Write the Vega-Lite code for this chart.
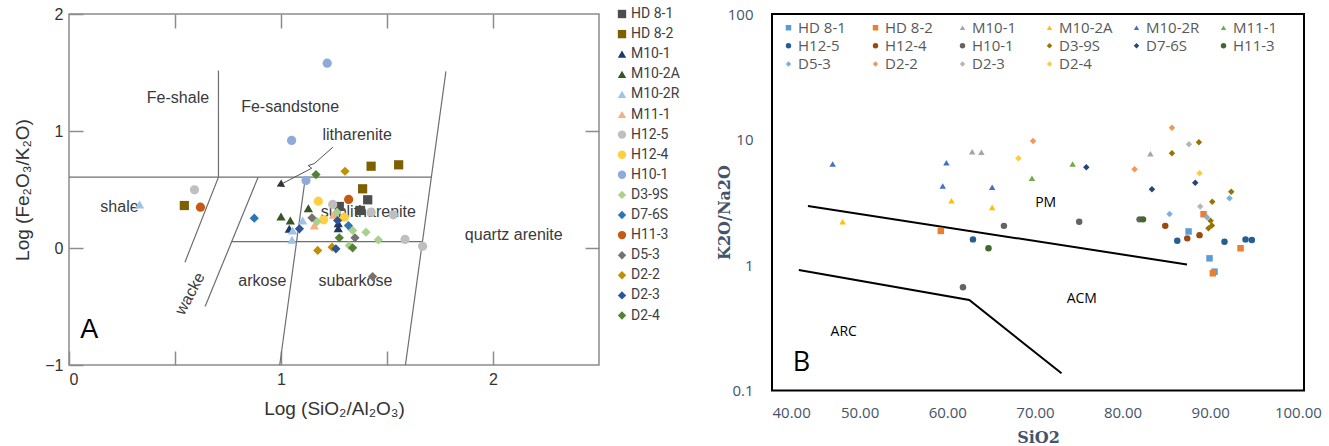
{
  "$schema": "https://vega.github.io/schema/vega-lite/v6.json",
  "background": "white",
  "padding": {"left": 13, "top": 5, "right": 0, "bottom": 0},
  "bounds": "flush",
  "spacing": 173,
  "config": {
    "font": "Liberation Sans",
    "axis": {"grid": false}
  },
  "datasets": {
    "leftLines": [
      {"seg": "top", "ord": 0, "x": 0, "y": 0.605},
      {"seg": "top", "ord": 1, "x": 1.709, "y": 0.605},
      {"seg": "feshale", "ord": 0, "x": 0.705, "y": 1.517},
      {"seg": "feshale", "ord": 1, "x": 0.705, "y": 0.605},
      {"seg": "feshale", "ord": 2, "x": 0.547, "y": -0.121},
      {"seg": "wacke", "ord": 0, "x": 0.892, "y": 0.605},
      {"seg": "wacke", "ord": 1, "x": 0.642, "y": -0.5},
      {"seg": "lower", "ord": 0, "x": 0.766, "y": 0.055},
      {"seg": "lower", "ord": 1, "x": 1.667, "y": 0.055},
      {"seg": "lith", "ord": 0, "x": 1.115, "y": 0.605},
      {"seg": "lith", "ord": 1, "x": 0.994, "y": -1},
      {"seg": "quartz", "ord": 0, "x": 1.587, "y": -1},
      {"seg": "quartz", "ord": 1, "x": 1.778, "y": 1.509}
    ],
    "leftArrow": [
      {"ord": 0, "x": 1.245, "y": 0.862},
      {"ord": 1, "x": 1.156, "y": 0.72},
      {"ord": 2, "x": 1.128, "y": 0.705},
      {"ord": 3, "x": 1.145, "y": 0.682},
      {"ord": 4, "x": 0.995, "y": 0.54}
    ],
    "leftArrowHead": [{"x": 0.995, "y": 0.54}],
    "leftLabels": [
      {"text": "Fe-shale", "x": 0.514, "y": 1.284},
      {"text": "Fe-sandstone", "x": 1.043, "y": 1.204},
      {"text": "litharenite", "x": 1.359, "y": 0.967},
      {"text": "shale", "x": 0.238, "y": 0.349},
      {"text": "sublitharenite", "x": 1.412, "y": 0.306},
      {"text": "quartz arenite", "x": 2.098, "y": 0.107},
      {"text": "arkose", "x": 0.912, "y": -0.278},
      {"text": "subarkose", "x": 1.351, "y": -0.286}
    ],
    "leftWacke": [{"text": "wacke", "x": 0.571, "y": -0.391}],
    "leftPanel": [{"text": "A", "x": 0.095, "y": -0.705}],
    "leftPoints": [
      {"sample": "HD 8-1", "x": 1.409, "y": 0.412},
      {"sample": "HD 8-1", "x": 1.275, "y": 0.355},
      {"sample": "HD 8-1", "x": 1.375, "y": 0.321},
      {"sample": "HD 8-2", "x": 1.425, "y": 0.699},
      {"sample": "HD 8-2", "x": 1.555, "y": 0.711},
      {"sample": "HD 8-2", "x": 1.385, "y": 0.506},
      {"sample": "HD 8-2", "x": 0.544, "y": 0.363},
      {"sample": "M10-1", "x": 1.27, "y": 0.212},
      {"sample": "M10-1", "x": 1.27, "y": 0.169},
      {"sample": "M10-1", "x": 1.039, "y": 0.164},
      {"sample": "M10-2A", "x": 1.0, "y": 0.269},
      {"sample": "M10-2A", "x": 1.044, "y": 0.235},
      {"sample": "M10-2A", "x": 1.129, "y": 0.34},
      {"sample": "M10-2R", "x": 0.333, "y": 0.372},
      {"sample": "M10-2R", "x": 1.102, "y": 0.235},
      {"sample": "M10-2R", "x": 1.055, "y": 0.15},
      {"sample": "M10-2R", "x": 1.052, "y": 0.07},
      {"sample": "M11-1", "x": 1.157, "y": 0.192},
      {"sample": "M11-1", "x": 1.247, "y": 0.284},
      {"sample": "H12-5", "x": 1.244, "y": 0.372},
      {"sample": "H12-5", "x": 1.425, "y": 0.306},
      {"sample": "H12-5", "x": 1.53, "y": 0.284},
      {"sample": "H12-5", "x": 0.592, "y": 0.497},
      {"sample": "H12-5", "x": 1.585, "y": 0.073},
      {"sample": "H12-5", "x": 1.668, "y": 0.015},
      {"sample": "H12-4", "x": 1.176, "y": 0.4},
      {"sample": "H12-4", "x": 1.201, "y": 0.241},
      {"sample": "H12-4", "x": 1.299, "y": 0.263},
      {"sample": "H10-1", "x": 1.218, "y": 1.58},
      {"sample": "H10-1", "x": 1.05, "y": 0.919},
      {"sample": "H10-1", "x": 1.118, "y": 0.577},
      {"sample": "D3-9S", "x": 1.264, "y": 0.306},
      {"sample": "D3-9S", "x": 1.17, "y": 0.226},
      {"sample": "D3-9S", "x": 1.338, "y": 0.15},
      {"sample": "D3-9S", "x": 1.401, "y": 0.135},
      {"sample": "D3-9S", "x": 1.459, "y": 0.07},
      {"sample": "D3-9S", "x": 1.322, "y": 0.021},
      {"sample": "D7-6S", "x": 0.874, "y": 0.255},
      {"sample": "D7-6S", "x": 1.318, "y": 0.192},
      {"sample": "H11-3", "x": 1.319, "y": 0.415},
      {"sample": "H11-3", "x": 0.62, "y": 0.349},
      {"sample": "D5-3", "x": 1.146, "y": 0.258},
      {"sample": "D5-3", "x": 1.349, "y": 0.087},
      {"sample": "D5-3", "x": 1.432, "y": -0.244},
      {"sample": "D2-2", "x": 1.302, "y": 0.656},
      {"sample": "D2-2", "x": 1.173, "y": -0.021},
      {"sample": "D2-2", "x": 1.241, "y": 0.007},
      {"sample": "D2-3", "x": 1.087, "y": 0.164},
      {"sample": "D2-3", "x": 1.267, "y": 0.235},
      {"sample": "D2-3", "x": 1.259, "y": -0.007},
      {"sample": "D2-4", "x": 1.165, "y": 0.628},
      {"sample": "D2-4", "x": 1.275, "y": 0.087},
      {"sample": "D2-4", "x": 1.338, "y": 0.002}
    ],
    "rightLines": [
      {"seg": "pm", "ord": 0, "x": 44.1, "y": 2.95},
      {"seg": "pm", "ord": 1, "x": 87.35, "y": 1.01},
      {"seg": "arc", "ord": 0, "x": 43.06, "y": 0.912},
      {"seg": "arc", "ord": 1, "x": 62.51, "y": 0.526},
      {"seg": "arc", "ord": 2, "x": 73.03, "y": 0.137}
    ],
    "rightLabels": [
      {"text": "PM", "x": 71.22, "y": 3.14},
      {"text": "ACM", "x": 75.35, "y": 0.533},
      {"text": "ARC", "x": 48.19, "y": 0.291}
    ],
    "rightPanel": [{"text": "B", "x": 43.35, "y": 0.167}],
    "rightPoints": [
      {"sample": "HD 8-1", "x": 87.53, "y": 1.85},
      {"sample": "HD 8-1", "x": 89.92, "y": 1.13},
      {"sample": "HD 8-1", "x": 90.49, "y": 0.885},
      {"sample": "HD 8-2", "x": 59.26, "y": 1.87},
      {"sample": "HD 8-2", "x": 89.24, "y": 2.54},
      {"sample": "HD 8-2", "x": 93.46, "y": 1.36},
      {"sample": "HD 8-2", "x": 90.3, "y": 0.859},
      {"sample": "M10-1", "x": 62.84, "y": 7.99},
      {"sample": "M10-1", "x": 63.89, "y": 7.91},
      {"sample": "M10-1", "x": 83.17, "y": 7.7},
      {"sample": "M10-2A", "x": 60.48, "y": 3.25},
      {"sample": "M10-2A", "x": 65.12, "y": 2.88},
      {"sample": "M10-2A", "x": 48.06, "y": 2.21},
      {"sample": "M10-2R", "x": 46.92, "y": 6.38},
      {"sample": "M10-2R", "x": 59.9, "y": 6.53},
      {"sample": "M10-2R", "x": 59.48, "y": 4.26},
      {"sample": "M10-2R", "x": 65.12, "y": 4.16},
      {"sample": "M11-1", "x": 74.3, "y": 6.38},
      {"sample": "M11-1", "x": 69.66, "y": 4.91},
      {"sample": "H12-5", "x": 62.93, "y": 1.6},
      {"sample": "H12-5", "x": 86.24, "y": 1.56},
      {"sample": "H12-5", "x": 91.63, "y": 1.53},
      {"sample": "H12-5", "x": 94.03, "y": 1.6},
      {"sample": "H12-5", "x": 94.75, "y": 1.58},
      {"sample": "H12-4", "x": 84.87, "y": 2.05},
      {"sample": "H12-4", "x": 87.38, "y": 1.63},
      {"sample": "H12-4", "x": 88.78, "y": 1.73},
      {"sample": "H10-1", "x": 66.46, "y": 2.05},
      {"sample": "H10-1", "x": 75.05, "y": 2.21},
      {"sample": "H10-1", "x": 81.94, "y": 2.31},
      {"sample": "H10-1", "x": 61.79, "y": 0.664},
      {"sample": "D3-9S", "x": 88.71, "y": 9.5},
      {"sample": "D3-9S", "x": 85.63, "y": 7.76},
      {"sample": "D3-9S", "x": 92.4, "y": 3.84},
      {"sample": "D3-9S", "x": 90.23, "y": 3.19},
      {"sample": "D3-9S", "x": 90.04, "y": 2.25},
      {"sample": "D3-9S", "x": 90.2, "y": 2.06},
      {"sample": "D3-9S", "x": 89.8, "y": 1.96},
      {"sample": "D7-6S", "x": 75.86, "y": 6.0},
      {"sample": "D7-6S", "x": 83.35, "y": 4.01},
      {"sample": "D7-6S", "x": 88.29, "y": 4.53},
      {"sample": "H11-3", "x": 64.7, "y": 1.36},
      {"sample": "H11-3", "x": 82.33, "y": 2.31},
      {"sample": "D5-3", "x": 85.36, "y": 2.55},
      {"sample": "D5-3", "x": 92.2, "y": 3.4},
      {"sample": "D5-3", "x": 89.63, "y": 2.4},
      {"sample": "D2-2", "x": 69.79, "y": 9.73},
      {"sample": "D2-2", "x": 81.37, "y": 5.79},
      {"sample": "D2-2", "x": 85.63, "y": 12.4},
      {"sample": "D2-3", "x": 87.57, "y": 9.16},
      {"sample": "D2-3", "x": 88.86, "y": 2.92},
      {"sample": "D2-4", "x": 68.11, "y": 7.08},
      {"sample": "D2-4", "x": 88.78, "y": 5.38}
    ]
  },
  "hconcat": [
    {
      "width": 530,
      "height": 351,
      "view": {"stroke": "#8c8c8c", "strokeWidth": 1.5},
      "resolve": {"axis": {"x": "independent", "y": "independent"}},
      "layer": [
        {
          "data": {"name": "leftLines"},
          "mark": {"type": "line", "color": "#6e6e6e", "strokeWidth": 1.2},
          "encoding": {
            "x": {
              "field": "x", "type": "quantitative",
              "scale": {"domain": [0, 2.5], "nice": false, "zero": false},
              "axis": {
                "title": "Log (SiO₂/Al₂O₃)", "values": [0, 0.5, 1, 1.5, 2],
                "labelExpr": "datum.value % 1 == 0 ? format(datum.value, 'd') : ''",
                "domain": false, "tickSize": -14, "tickColor": "#8c8c8c", "tickWidth": 1.5,
                "labelFont": "Liberation Sans", "labelFontSize": 16, "labelColor": "#333333",
                "labelPadding": 20, "titleFont": "Liberation Sans", "titleFontSize": 19,
                "titleFontWeight": "normal", "titleColor": "#333333", "titlePadding": 12
              }
            },
            "y": {
              "field": "y", "type": "quantitative",
              "scale": {"domain": [-1, 2], "nice": false, "zero": false},
              "axis": {
                "title": "Log (Fe₂O₃/K₂O)", "values": [-1, 0, 1, 2], "format": "d",
                "domain": false, "tickSize": -14, "tickColor": "#8c8c8c", "tickWidth": 1.5,
                "labelFont": "Liberation Sans", "labelFontSize": 16, "labelColor": "#333333",
                "labelPadding": 20, "titleFont": "Liberation Sans", "titleFontSize": 19,
                "titleFontWeight": "normal", "titleColor": "#333333", "titlePadding": 12
              }
            },
            "detail": {"field": "seg"},
            "order": {"field": "ord"}
          }
        },
        {
          "data": {"name": "leftArrow"},
          "mark": {"type": "line", "color": "#555555", "strokeWidth": 1},
          "encoding": {
            "x": {
              "field": "x", "type": "quantitative",
              "axis": {"orient": "top", "title": null, "labels": false, "domain": false,
                       "values": [0.5, 1, 1.5, 2], "tickSize": -14, "tickColor": "#8c8c8c", "tickWidth": 1.5}
            },
            "y": {
              "field": "y", "type": "quantitative",
              "axis": {"orient": "right", "title": null, "labels": false, "domain": false,
                       "values": [0, 1], "tickSize": -14, "tickColor": "#8c8c8c", "tickWidth": 1.5}
            },
            "order": {"field": "ord"}
          }
        },
        {
          "data": {"name": "leftArrowHead"},
          "mark": {"type": "point", "shape": "triangle-up", "filled": true, "color": "#333333",
                   "opacity": 1, "size": 70, "angle": 243},
          "encoding": {
            "x": {"field": "x", "type": "quantitative", "axis": null},
            "y": {"field": "y", "type": "quantitative", "axis": null}
          }
        },
        {
          "data": {"name": "leftLabels"},
          "mark": {"type": "text", "font": "Liberation Sans", "fontSize": 16, "color": "#3a3a3a"},
          "encoding": {
            "x": {"field": "x", "type": "quantitative", "axis": null},
            "y": {"field": "y", "type": "quantitative", "axis": null},
            "text": {"field": "text"}
          }
        },
        {
          "data": {"name": "leftWacke"},
          "mark": {"type": "text", "font": "Liberation Sans", "fontSize": 16, "color": "#3a3a3a", "angle": -62},
          "encoding": {
            "x": {"field": "x", "type": "quantitative", "axis": null},
            "y": {"field": "y", "type": "quantitative", "axis": null},
            "text": {"field": "text"}
          }
        },
        {
          "data": {"name": "leftPanel"},
          "mark": {"type": "text", "font": "Liberation Sans", "fontSize": 27, "color": "#000000"},
          "encoding": {
            "x": {"field": "x", "type": "quantitative", "axis": null},
            "y": {"field": "y", "type": "quantitative", "axis": null},
            "text": {"field": "text"}
          }
        },
        {
          "data": {"name": "leftPoints"},
          "mark": {"type": "point", "filled": true, "opacity": 1, "size": 85, "strokeWidth": 0},
          "encoding": {
            "x": {"field": "x", "type": "quantitative", "axis": null},
            "y": {"field": "y", "type": "quantitative", "axis": null},
            "color": {
              "field": "sample", "type": "nominal",
              "scale": {
                "domain": ["HD 8-1", "HD 8-2", "M10-1", "M10-2A", "M10-2R", "M11-1", "H12-5", "H12-4", "H10-1", "D3-9S", "D7-6S", "H11-3", "D5-3", "D2-2", "D2-3", "D2-4"],
                "range": ["#4d4d4d", "#7f6000", "#1f3864", "#375623", "#9dc3e6", "#f4b183", "#bfbfbf", "#ffcf3f", "#8eaadb", "#a9d18e", "#2e75b6", "#c55a11", "#767171", "#bf9000", "#2f5597", "#548235"]
              },
              "legend": {
                "title": null, "orient": "none", "legendX": 546, "legendY": -7, "padding": 0,
                "labelFont": "Roboto", "labelFontSize": 14, "labelColor": "#404040",
                "symbolSize": 70, "symbolStrokeWidth": 0, "rowPadding": 6.1, "labelOffset": 2
              }
            },
            "shape": {
              "field": "sample", "type": "nominal",
              "scale": {
                "domain": ["HD 8-1", "HD 8-2", "M10-1", "M10-2A", "M10-2R", "M11-1", "H12-5", "H12-4", "H10-1", "D3-9S", "D7-6S", "H11-3", "D5-3", "D2-2", "D2-3", "D2-4"],
                "range": ["square", "square", "triangle-up", "triangle-up", "triangle-up", "triangle-up", "circle", "circle", "circle", "diamond", "diamond", "circle", "diamond", "diamond", "diamond", "diamond"]
              },
              "legend": {
                "title": null, "orient": "none", "legendX": 546, "legendY": -7, "padding": 0,
                "labelFont": "Roboto", "labelFontSize": 14, "labelColor": "#404040",
                "symbolSize": 70, "symbolStrokeWidth": 0, "rowPadding": 6.1, "labelOffset": 2
              }
            }
          }
        }
      ]
    },
    {
      "width": 532,
      "height": 376.5,
      "view": {"stroke": "#000000", "strokeWidth": 2},
      "layer": [
        {
          "data": {"name": "rightLines"},
          "mark": {"type": "line", "color": "#000000", "strokeWidth": 2},
          "encoding": {
            "x": {
              "field": "x", "type": "quantitative",
              "scale": {"domain": [40, 100.7], "nice": false, "zero": false},
              "axis": {
                "title": "SiO2", "values": [40, 50, 60, 70, 80, 90, 100], "format": ".2f",
                "domain": false, "ticks": false, "labelFont": "Open Sans", "labelFontSize": 15,
                "labelColor": "#44546a", "labelPadding": 15, "titleFont": "DejaVu Serif",
                "titleFontSize": 16, "titleFontWeight": "bold", "titleColor": "#44546a", "titlePadding": 9
              }
            },
            "y": {
              "field": "y", "type": "quantitative",
              "scale": {"type": "log", "domain": [0.1, 100], "nice": false},
              "axis": {
                "title": "K2O/Na2O", "values": [0.1, 1, 10, 100], "format": "~g",
                "domain": false, "ticks": false, "labelFont": "Open Sans", "labelFontSize": 15,
                "labelColor": "#44546a", "labelPadding": 19, "titleFont": "DejaVu Serif",
                "titleFontSize": 16, "titleFontWeight": "bold", "titleColor": "#44546a",
                "titlePadding": -5, "titleY": 198
              }
            },
            "detail": {"field": "seg"},
            "order": {"field": "ord"}
          }
        },
        {
          "data": {"name": "rightLabels"},
          "mark": {"type": "text", "font": "Open Sans", "fontSize": 14, "color": "#000000"},
          "encoding": {
            "x": {"field": "x", "type": "quantitative"},
            "y": {"field": "y", "type": "quantitative"},
            "text": {"field": "text"}
          }
        },
        {
          "data": {"name": "rightPanel"},
          "mark": {"type": "text", "font": "Open Sans", "fontSize": 27, "color": "#000000"},
          "encoding": {
            "x": {"field": "x", "type": "quantitative"},
            "y": {"field": "y", "type": "quantitative"},
            "text": {"field": "text"}
          }
        },
        {
          "data": {"name": "rightPoints"},
          "mark": {"type": "point", "filled": true, "opacity": 1, "size": 42, "strokeWidth": 0},
          "encoding": {
            "x": {"field": "x", "type": "quantitative"},
            "y": {"field": "y", "type": "quantitative"},
            "color": {
              "field": "sample", "type": "nominal",
              "scale": {
                "domain": ["HD 8-1", "HD 8-2", "M10-1", "M10-2A", "M10-2R", "M11-1", "H12-5", "H12-4", "H10-1", "D3-9S", "D7-6S", "H11-3", "D5-3", "D2-2", "D2-3", "D2-4"],
                "range": ["#5b9bd5", "#ed7d31", "#a5a5a5", "#ffc000", "#4472c4", "#70ad47", "#255e91", "#9e480e", "#636363", "#997300", "#264478", "#43682b", "#7cafdd", "#f1975a", "#b7b7b7", "#ffcd33"]
              },
              "legend": {
                "title": null, "orient": "none", "legendX": 9, "legendY": 6, "padding": 0,
                "direction": "horizontal", "columns": 6, "gridAlign": "all", "columnPadding": 16, "rowPadding": 2.3,
                "labelFont": "Open Sans", "labelFontSize": 15, "labelColor": "#595959",
                "symbolSize": 30, "symbolStrokeWidth": 0, "labelOffset": 2
              }
            },
            "shape": {
              "field": "sample", "type": "nominal",
              "scale": {
                "domain": ["HD 8-1", "HD 8-2", "M10-1", "M10-2A", "M10-2R", "M11-1", "H12-5", "H12-4", "H10-1", "D3-9S", "D7-6S", "H11-3", "D5-3", "D2-2", "D2-3", "D2-4"],
                "range": ["square", "square", "triangle-up", "triangle-up", "triangle-up", "triangle-up", "circle", "circle", "circle", "diamond", "diamond", "circle", "diamond", "diamond", "diamond", "diamond"]
              },
              "legend": {
                "title": null, "orient": "none", "legendX": 9, "legendY": 6, "padding": 0,
                "direction": "horizontal", "columns": 6, "gridAlign": "all", "columnPadding": 16, "rowPadding": 2.3,
                "labelFont": "Open Sans", "labelFontSize": 15, "labelColor": "#595959",
                "symbolSize": 30, "symbolStrokeWidth": 0, "labelOffset": 2
              }
            }
          }
        }
      ]
    }
  ],
  "resolve": {
    "scale": {"color": "independent", "shape": "independent"},
    "legend": {"color": "independent", "shape": "independent"}
  }
}
